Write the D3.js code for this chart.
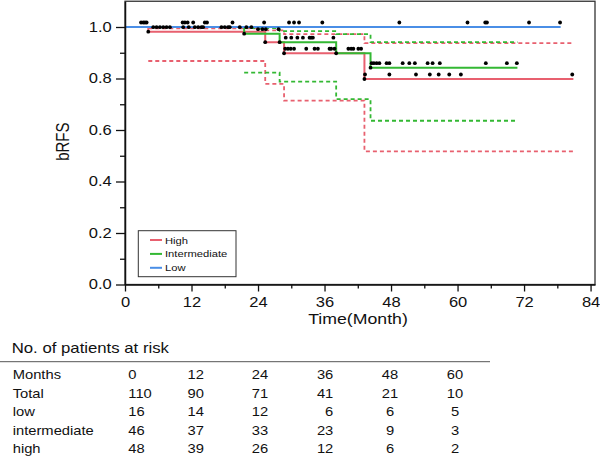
<!DOCTYPE html>
<html><head><meta charset="utf-8">
<script src="https://cdn.jsdelivr.net/npm/d3@7"></script>
<style>body{margin:0;background:#fff} svg{display:block;font-family:"Liberation Sans",Arial,sans-serif}</style>
</head><body><svg id="c" width="600" height="458"></svg>
<script>
// ---- data ----
const groups = ["High", "Intermediate", "Low"];
const months = [0, 12, 24, 36, 48, 60];
const riskTotal = [110, 90, 71, 41, 21, 10];
const riskLow = [16, 14, 12, 6, 6, 5];
const riskIntermediate = [46, 37, 33, 23, 9, 3];
const riskHigh = [48, 39, 26, 12, 6, 2];

const highTimes = [0, 4.2, 25.3, 28.7, 43.2];
const highSurv  = [1, 0.982, 0.941, 0.898, 0.798];
const highUpper = [1, 0.995, 0.987, 0.972, 0.937];
const highLower = [1, 0.868, 0.779, 0.714, 0.517];
const highEnd = 80.9;
const highCensor = [5.1,5.7,6.3,6.9,7.5,8.1,10.5,11.5,12.6,13.2,13.8,14.1,17.4,18.0,18.6,18.9,20.7,21.9,22.8,
  28.9,29.4,29.9,30.5,32.7,34.2,34.8,36.9,37.2,37.8,43.3,47.7,52.5,55.0,56.6,58.5,60.6,80.7];

const interTimes = [0, 21.5, 27.9, 38.1, 44.3];
const interSurv  = [1, 0.974, 0.941, 0.898, 0.842];
const interUpper = [1, 0.996, 0.984, 0.972, 0.941];
const interLower = [1, 0.823, 0.788, 0.720, 0.636];
const interEnd = 70.8;
const interCensor = [24.0,24.8,25.4,27.7,29.0,30.0,31.1,32.1,33.3,33.6,33.9,37.6,40.3,40.8,41.2,42.1,42.6,
  44.5,44.9,45.4,45.9,47.2,47.7,50.1,51.3,52.3,54.6,55.5,56.8,65.1,68.9,70.7];

const lowTimes = [0];
const lowSurv  = [1];
const lowEnd = 78.6;
const lowCensor = [2.9,3.3,3.6,3.9,10.4,10.8,11.3,12.3,14.4,14.8,19.4,25.1,29.6,30.5,31.4,35.6,49.5,61.8,65.0,65.3,72.9,78.5];

const xTicks = [0, 12, 24, 36, 48, 60, 72, 84];
const yTicks = [0, 0.2, 0.4, 0.6, 0.8, 1.0];

// ---- layout ----
const SX = 1.18;
const colors = {High: "#e8606f", Intermediate: "#33b833", Low: "#4a8ee6"};
const svg = d3.select("#c");
const x = d3.scaleLinear().domain([0, 84.8]).range([125, 595]);
const y = d3.scaleLinear().domain([0, 1.1]).range([284.5, 1.25]);

function addText(px, py, str, size, anchor) {
  return svg.append("text")
    .attr("transform", `translate(${px},${py}) scale(${SX},1)`)
    .attr("text-anchor", anchor || "start")
    .style("font-size", size + "px").attr("fill", "#111").text(str);
}

// frame
svg.append("rect").attr("x", x(0)).attr("y", y(1.1))
  .attr("width", x(84.8) - x(0)).attr("height", y(0) - y(1.1))
  .attr("fill", "none").attr("stroke", "#333").attr("stroke-width", 1.3);

// step series
const stepLine = d3.line().x(d => x(d[0])).y(d => y(d[1])).curve(d3.curveStepAfter);
function pts(times, vals, end, from) {
  const p = times.map((t, i) => [t, vals[i]]).slice(from);
  p.push([end, vals[vals.length - 1]]);
  return p;
}
function survAt(times, vals, t) {
  let v = vals[0];
  times.forEach((tt, i) => { if (t >= tt) v = vals[i]; });
  return v;
}
const series = [
  {name: "High", times: highTimes, surv: highSurv, up: highUpper, lo: highLower, end: highEnd, cens: highCensor},
  {name: "Intermediate", times: interTimes, surv: interSurv, up: interUpper, lo: interLower, end: interEnd, cens: interCensor},
  {name: "Low", times: lowTimes, surv: lowSurv, up: null, lo: null, end: lowEnd, cens: lowCensor}
];
const plot = svg.append("g");
// dashed CIs
series.forEach(s => {
  if (!s.up) return;
  [s.up, s.lo].forEach(b => {
    plot.append("path").attr("d", stepLine(pts(s.times, b, s.end, 1)))
      .attr("fill", "none").attr("stroke", colors[s.name]).attr("stroke-width", 1.8)
      .attr("stroke-dasharray", "4,3");
  });
});
// solid curves
series.forEach(s => {
  plot.append("path").attr("d", stepLine(pts(s.times, s.surv, s.end, 0)))
    .attr("fill", "none").attr("stroke", colors[s.name]).attr("stroke-width", 2);
});
// marks
series.forEach(s => {
  plot.selectAll(null).data(s.cens).enter().append("circle")
    .attr("cx", d => x(d)).attr("cy", d => y(survAt(s.times, s.surv, d)) - 4.5)
    .attr("r", 1.9).attr("fill", "#000");
  plot.selectAll(null).data(s.times.slice(1)).enter().append("circle")
    .attr("cx", d => x(d)).attr("cy", d => y(survAt(s.times, s.surv, d)))
    .attr("r", 1.9).attr("fill", "#000");
});

// axes
const gx = svg.append("g").attr("transform", `translate(0,${y(0)})`)
  .call(d3.axisBottom(x).tickValues(xTicks).tickSize(7).tickSizeOuter(0));
svg.append("g").attr("transform", `translate(0,${y(0)})`)
  .call(d3.axisBottom(x).tickValues(xTicks.slice(0, -1).map(t => t + 6)).tickSize(4).tickFormat(""))
  .select(".domain").remove();
gx.selectAll("text").attr("y", 22.5).attr("dy", null)
  .attr("transform", `scale(${SX},1)`).style("font-size", "14px").attr("fill", "#111")
  .style("font-family", "Liberation Sans, Arial, sans-serif");

const gy = svg.append("g").attr("transform", `translate(${x(0)},0)`)
  .call(d3.axisLeft(y).tickValues(yTicks).tickFormat(d3.format(".1f")).tickSize(9).tickSizeOuter(0));
svg.append("g").attr("transform", `translate(${x(0)},0)`)
  .call(d3.axisLeft(y).tickValues(yTicks.slice(0, -1).map(t => t + 0.1)).tickSize(5).tickFormat(""))
  .select(".domain").remove();
gy.selectAll("text").attr("x", -11.3)
  .attr("transform", `scale(${SX},1)`).style("font-size", "14px").attr("fill", "#111")
  .style("font-family", "Liberation Sans, Arial, sans-serif");
svg.selectAll(".domain").attr("stroke", "#111").attr("stroke-width", 1.5);
svg.selectAll(".tick line").attr("stroke", "#111").attr("stroke-width", 1.3);

// axis titles
svg.append("text").attr("transform", `translate(69,141.7) rotate(-90) scale(1,${SX})`)
  .attr("text-anchor", "middle").style("font-size", "15px").attr("fill", "#111").text("bRFS");
addText(358, 324, "Time(Month)", 15, "middle");

// legend
const lg = svg.append("g");
lg.append("rect").attr("x", 138.3).attr("y", 230.7).attr("width", 97.7).attr("height", 46)
  .attr("fill", "#fff").attr("stroke", "#333").attr("stroke-width", 1);
groups.forEach((g, i) => {
  const cy = 240 + i * 13.9;
  lg.append("line").attr("x1", 150).attr("x2", 162).attr("y1", cy).attr("y2", cy)
    .attr("stroke", colors[g]).attr("stroke-width", 2);
  addText(165, cy + 3.5, g, 9.5, "start");
});

// risk table
addText(11.7, 352.7, "No. of patients at risk", 14.2, "start");
svg.append("line").attr("x1", 0).attr("x2", 490).attr("y1", 361.7).attr("y2", 361.7)
  .attr("stroke", "#555").attr("stroke-width", 1);
const rowLabels = ["Months", "Total", "low", "intermediate", "high"];
const rowData = [months, riskTotal, riskLow, riskIntermediate, riskHigh];
const colPos = [[128.3, "start"], [195.8, "middle"], [260, "middle"], [333.3, "end"], [390, "middle"], [455, "middle"]];
rowLabels.forEach((lab, r) => {
  const by = 379.3 + r * 18.5;
  addText(12.7, by, lab, 12.5, "start");
  rowData[r].forEach((v, c) => addText(colPos[c][0], by, String(v), 12.5, colPos[c][1]));
});
</script></body></html>
